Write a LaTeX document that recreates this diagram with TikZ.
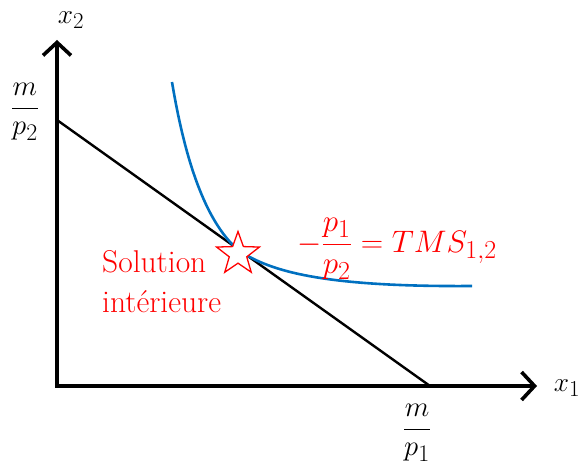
\documentclass[tikz,border=0pt]{standalone}
\usepackage{amsmath}
\usepackage{graphicx}
\usepackage{fontspec}
\usepackage{xcolor}
\usetikzlibrary{shapes.geometric, arrows.meta, positioning, calc}
\definecolor{curveblue}{RGB}{0,112,192}
\definecolor{labelred}{RGB}{255,0,0}

\begin{document}
\begin{tikzpicture}[
    x=1pt, y=-1pt,
    axis/.style={line width=3.6pt, line join=miter, {Straight Barb[length=13pt, width=28pt]}-{Straight Barb[length=13pt, width=28pt]}},
    budget/.style={line width=2.4pt, draw=black},
    indiff/.style={line width=2.6pt, draw=curveblue},
    mathlab/.style={inner sep=0pt, font=\fontsize{24.88}{30}\selectfont},
    redlab/.style={inner sep=0pt, text=labelred, font=\rmfamily\fontsize{31.5}{40}\selectfont, align=left},
    optimum/.style={star, star points=5, star point ratio=2.45, minimum size=45pt, inner sep=0pt, draw=labelred, fill=white, line width=1.3pt}
]
    \useasboundingbox (0,0) rectangle (585,473);

    % Axes
    \coordinate (O) at (57,386);
    \coordinate (ytip) at (57,40);
    \coordinate (xtip) at (537,386);
    \draw[axis] (ytip) -- (O) -- (xtip);

    % Axis labels
    \node[mathlab] (x2lab) at (71,20) {\scalebox{1.1}{$x_2$}};
    \node[mathlab] (x1lab) at (567,388) {\scalebox{1.1}{$x_1$}};
    \node[mathlab] (mp2) at (25,112) {\scalebox{1.15}{$\dfrac{m}{p_2}$}};
    \node[mathlab] (mp1) at (417,433) {\scalebox{1.15}{$\dfrac{m}{p_1}$}};

    % Budget line
    \coordinate (A) at (57,120);
    \coordinate (B) at (430,386);
    \draw[budget] (A) -- (B);

    % Indifference curve
    \coordinate (c0) at (172,82);
    \coordinate (T) at (237,249);
    \coordinate (c1) at (472,286);
    \draw[indiff] (c0) .. controls (185,160) and (205,220) .. (T)
                  .. controls (270,273) and (330,287) .. (c1);

    % Optimum
    \node[optimum] (opt) at (238,254) {};
    \node[redlab, anchor=base west] (sol) at (102,312) {Solution\\intérieure};
    \node[mathlab, text=labelred, anchor=west] (tms) at (297,249) {\scalebox{1.25}{$-\dfrac{p_1}{p_2}=TMS_{1,2}$}};
\end{tikzpicture}
\end{document}
